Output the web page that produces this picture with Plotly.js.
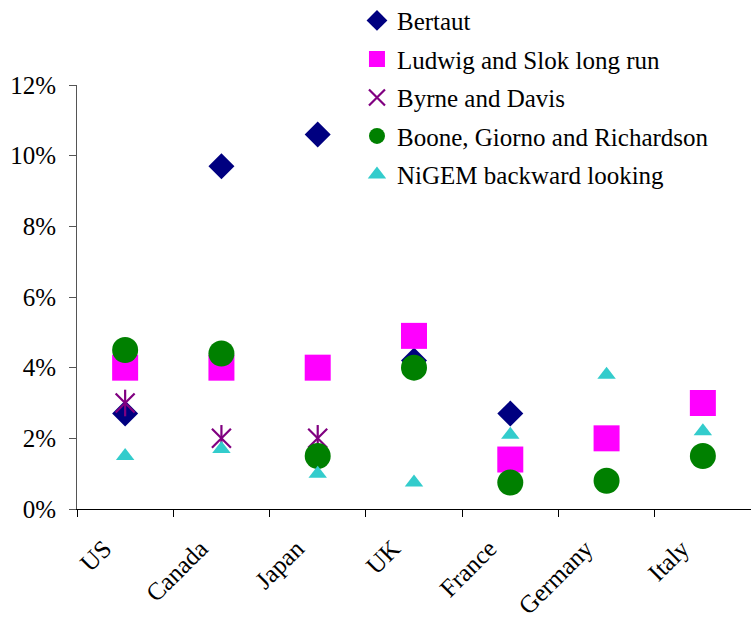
<!DOCTYPE html>
<html>
<head>
<meta charset="utf-8">
<script src="https://cdn.plot.ly/plotly-3.0.1.min.js"></script>
<style>
  html, body { margin: 0; padding: 0; background: #fff; }
  #chart { width: 751px; height: 621px; }
  #chart svg text { font-family: 'Liberation Serif', 'Times New Roman', serif !important; }
</style>
</head>
<body>
<div id="chart"></div>
<script>
// Countries along the category axis
const countries = ["US", "Canada", "Japan", "UK", "France", "Germany", "Italy"];

// Estimates by study (fractions; null = no estimate)
const bertaut  = [0.027, 0.097, 0.106, 0.042, 0.027, null, null];
const ludwig   = [0.040, 0.040, 0.040, 0.049, 0.014, 0.020, 0.030];
const byrne    = [0.030, 0.020, 0.020, null, null, null, null];
const boone    = [0.045, 0.044, 0.015, 0.040, 0.0075, 0.008, 0.015];
const nigem    = [0.015, 0.017, 0.010, 0.0075, 0.021, 0.038, 0.022];

const seriesNames = [
  "Bertaut",
  "Ludwig and Slok long run",
  "Byrne and Davis",
  "Boone, Giorno and Richardson",
  "NiGEM backward looking"
];

const SERIF = "Liberation Serif";

function pts(name, y, marker, extra) {
  return Object.assign({
    type: "scatter", mode: "markers", x: countries, y: y, name: name,
    legendgroup: name, marker: marker, hoverinfo: "x+y"
  }, extra || {});
}

const traces = [
  pts(seriesNames[0], bertaut, {symbol: "diamond", size: 20, color: "#000080", line: {width: 0}}),
  pts(seriesNames[1], ludwig,  {symbol: "square", size: 26, color: "#ff00ff", line: {width: 0}}),
  pts(seriesNames[2], byrne,   {symbol: "x-thin-open", size: 19, color: "#800080", line: {width: 2.2, color: "#800080"}}),
  // vertical stroke completing the star marker
  pts(seriesNames[2], byrne,   {symbol: "line-ns-open", size: 19, color: "#800080", line: {width: 2.2, color: "#800080"}}, {showlegend: false}),
  pts(seriesNames[3], boone,   {symbol: "circle", size: 26, color: "#008000", line: {width: 0}}),
  pts(seriesNames[4], nigem,   {symbol: "triangle-up", size: 16, color: "#33cccc", line: {width: 0}})
];

const layout = {
  width: 751, height: 621,
  paper_bgcolor: "#fff", plot_bgcolor: "#fff",
  margin: {l: 77, r: 0, t: 85, b: 112, autoexpand: false},
  font: {family: SERIF, size: 25},
  showlegend: true,
  legend: {
    x: 0.4154, xanchor: "left", y: 1.206, yanchor: "top",
    bgcolor: "rgba(0,0,0,0)", borderwidth: 0,
    font: {family: SERIF, size: 25, color: "#000"},
    traceorder: "grouped", tracegroupgap: 3
  },
  xaxis: {
    type: "category", range: [-0.5, 6.5],
    showline: true, linecolor: "#000", linewidth: 1,
    ticks: "outside", ticklen: 7, tickcolor: "#000", tickson: "boundaries",
    tickangle: -45, ticklabelstandoff: 14, ticklabelshift: -21,
    showgrid: false, zeroline: false,
    tickfont: {family: SERIF, size: 25, color: "#000"}
  },
  yaxis: {
    range: [0, 0.12], dtick: 0.02, tickformat: ".0%",
    showline: true, linecolor: "#555", linewidth: 1,
    ticks: "outside", ticklen: 7, tickcolor: "#555", ticklabelstandoff: 8,
    showgrid: false, zeroline: false,
    tickfont: {family: SERIF, size: 25, color: "#000"}
  }
};

const config = {displayModeBar: false, staticPlot: true};

function draw() {
  return Plotly.newPlot("chart", traces, layout, config);
}

draw();
// redraw once the serif face is ready so text is measured in it
if (document.fonts && document.fonts.load) {
  document.fonts.load("25px 'Liberation Serif'").then(draw, function () {});
}
</script>
</body>
</html>
